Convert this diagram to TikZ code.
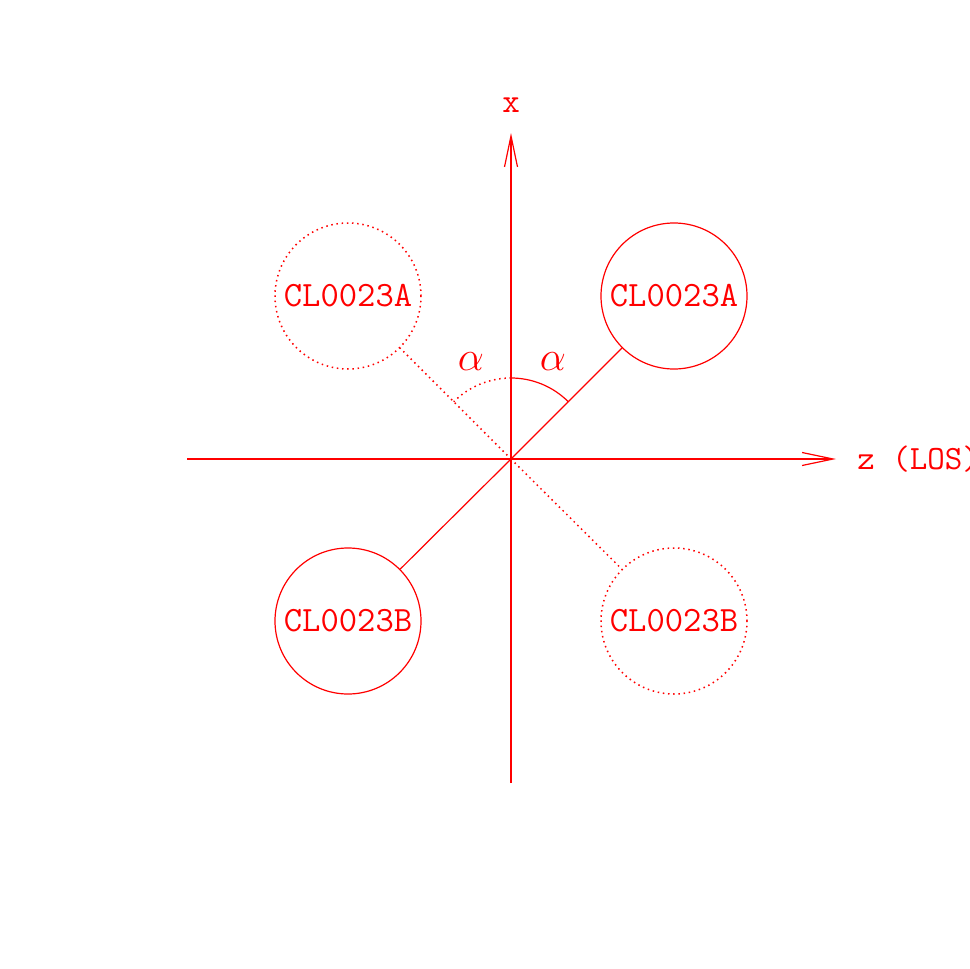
\documentclass[tikz,border=0pt]{standalone}
\usetikzlibrary{arrows.meta}
\begin{document}
\begin{tikzpicture}[x=0.5pt,y=-0.5pt,
  every node/.style={text=red},
  ln/.style={draw=red,line width=0.6pt},
  dln/.style={draw=red,line width=0.75pt,dash pattern=on 0.75pt off 1.85pt},
  axis/.style={ln,-{Straight Barb[length=15.5pt,width=6.5pt,line width=0.6pt]}},
  clus/.style={circle,minimum size=73pt,inner sep=0pt,font=\ttfamily\fontsize{17.8}{21}\selectfont},
  lbl/.style={font=\ttfamily\fontsize{17}{20}\selectfont,inner sep=0pt}]
\useasboundingbox (0,0) rectangle (969,969);
\coordinate (o) at (511,459);
\coordinate (zl) at (187,459);
\coordinate (zr) at (836,459);
\coordinate (xb) at (511,783);
\coordinate (xt) at (511,133);
\draw[axis] (zl) -- (zr);
\draw[axis] (xb) -- (xt);
\node[lbl] (xlab) at (511,105) {x};
\node[lbl,anchor=west] (zlab) at (857,459) {z (LOS)};
\node[clus,ln] (A) at (674,296) {CL0023A};
\node[clus,dln] (Ad) at (348,296) {CL0023A};
\node[clus,ln] (B) at (348,621) {CL0023B};
\node[clus,dln] (Bd) at (674,621) {CL0023B};
\draw[ln] (o) -- (A);
\draw[ln] (o) -- (B);
\draw[dln] (o) -- (Ad);
\draw[dln] (o) -- (Bd);
\draw[ln] (511,378) arc[start angle=-90,end angle=-45,radius=81];
\draw[dln] (511,378) arc[start angle=-90,end angle=-135,radius=81];
\node[font=\fontsize{20}{22}\selectfont] (a1) at (471,362) {$\alpha$};
\node[font=\fontsize{20}{22}\selectfont] (a2) at (553,362) {$\alpha$};
\end{tikzpicture}
\end{document}
